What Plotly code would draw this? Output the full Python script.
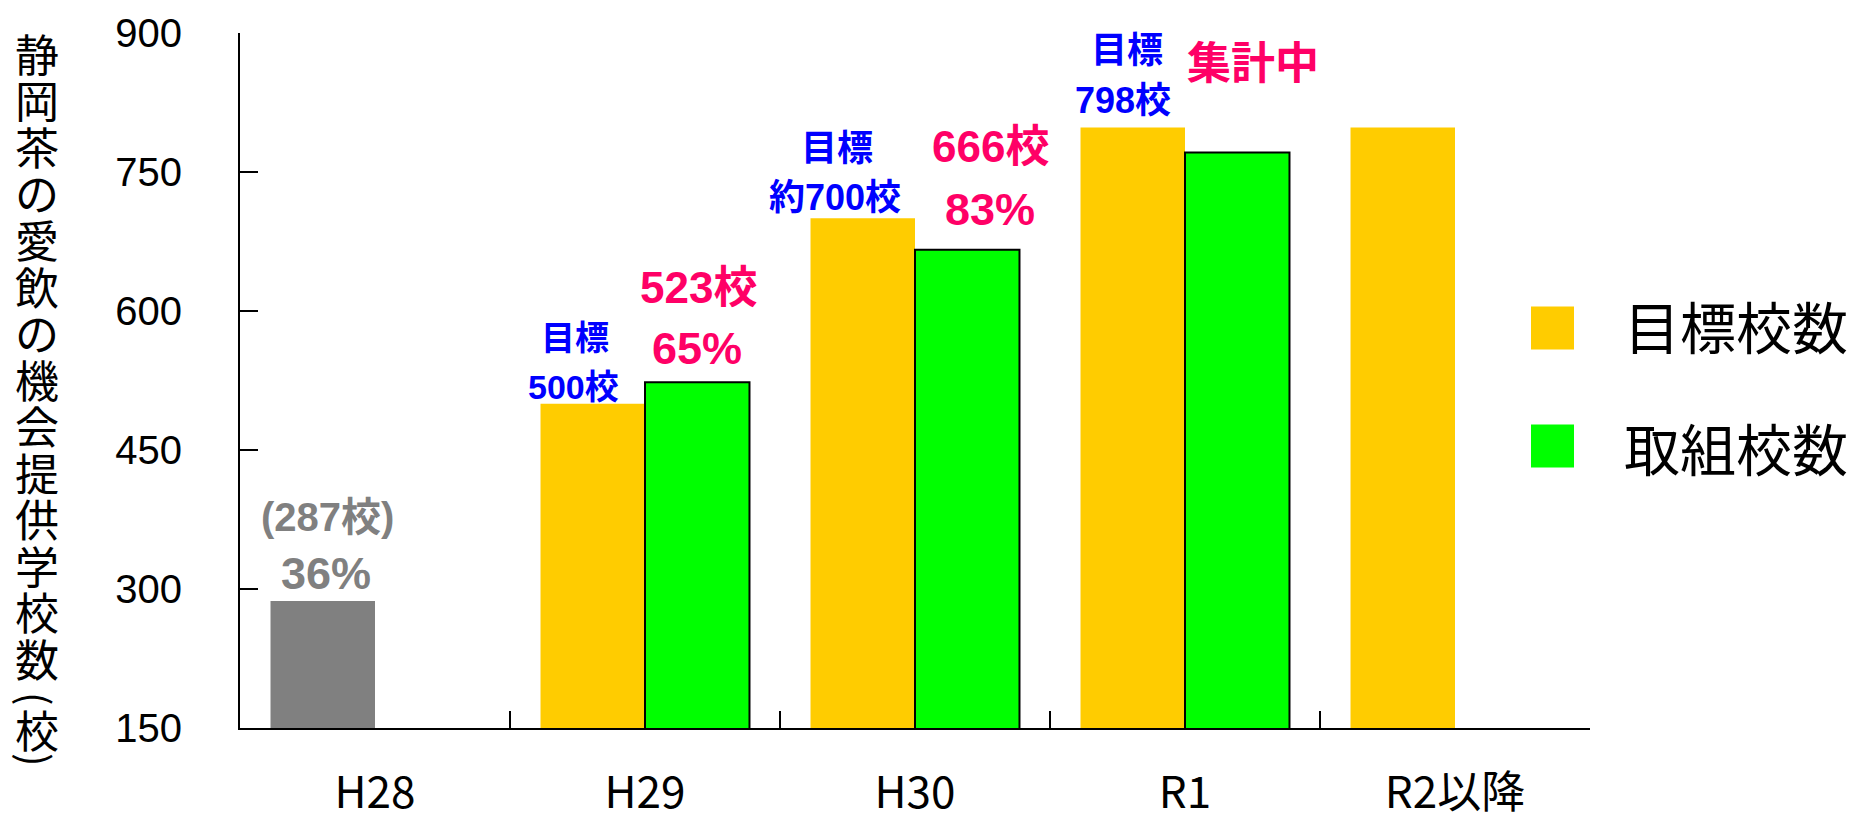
import plotly.graph_objects as go

# ---- data ----
categories = ["H28", "H29", "H30", "R1", "R2以降"]
baseline_cat = ["H28"]
baseline_values = [287]
target_cats = ["H29", "H30", "R1", "R2以降"]
target_values = [500, 700, 798, 798]
actual_cats = ["H29", "H30", "R1"]
actual_values = [523, 666, 771]
y_ticks = [150, 300, 450, 600, 750, 900]
legend_names = ["目標校数", "取組校数"]
axis_title = "静岡茶の愛飲の機会提供学校数（校）"

# ---- canvas / styling ----
W, H = 1856, 817
M_L, M_R, M_T, M_B = 240, 266, 33, 89
PLOT_W = W - M_L - M_R
PLOT_H = H - M_T - M_B

YELLOW = "#FFCC00"
GREEN = "#00FF00"
GRAY = "#808080"
BLUE = "#0000FF"
PINK = "#FF0066"
LABEL_FONT = "Liberation Sans, Noto Sans CJK JP, sans-serif"
CJK_FONT = "Noto Sans CJK JP, sans-serif"


def paper_x(px):
    return (px - M_L) / PLOT_W


def paper_y(py):
    return 1 - (py - M_T) / PLOT_H


fig = go.Figure()

fig.add_trace(go.Bar(
    x=baseline_cat, y=baseline_values, offsetgroup="target",
    marker=dict(color=GRAY, line=dict(width=0)), showlegend=False,
))
fig.add_trace(go.Bar(
    x=target_cats, y=target_values, offsetgroup="target", name=legend_names[0],
    marker=dict(color=YELLOW, line=dict(width=0)), showlegend=False,
))
fig.add_trace(go.Bar(
    x=actual_cats, y=actual_values, offsetgroup="actual", name=legend_names[1],
    marker=dict(color=GREEN, line=dict(color="#000000", width=2)), showlegend=False,
))

# value labels: (text, category, bar value, x offset px, y offset px above bar top, size, color)
bar_labels = [
    ("(287校)", "H28", baseline_values[0], -48, 84, 40, GRAY),
    ("36%", "H28", baseline_values[0], -49, 28, 45, GRAY),
    ("目標", "H29", target_values[0], -70, 66, 34, BLUE),
    ("500校", "H29", target_values[0], -72, 17, 34, BLUE),
    ("523校", "H29", actual_values[0], 53, 95, 44, PINK),
    ("65%", "H29", actual_values[0], 52, 34, 45, PINK),
    ("目標", "H30", target_values[1], -78, 70, 36, BLUE),
    ("約700校", "H30", target_values[1], -80, 21, 36, BLUE),
    ("666校", "H30", actual_values[1], 75, 103, 44, PINK),
    ("83%", "H30", actual_values[1], 75, 40, 45, PINK),
    ("目標", "R1", target_values[2], -58, 77, 36, BLUE),
    ("798校", "R1", target_values[2], -62, 27, 36, BLUE),
    ("集計中", "R1", actual_values[2], 68, 89, 44, PINK),
]
annotations = []
for text, cat, val, dx, dy, size, color in bar_labels:
    annotations.append(dict(
        text=f"<b>{text}</b>", x=cat, y=val, xref="x", yref="y",
        xshift=dx, yshift=dy, xanchor="center", yanchor="middle",
        showarrow=False, font=dict(family=LABEL_FONT, size=size, color=color),
    ))

# vertical axis title, one character per line; brackets are turned sideways
title_y = [53 + i * 46.5 for i in range(14)] + [699, 729, 760]
for ch, ty in zip(axis_title, title_y):
    is_bracket = ch in "（）"
    annotations.append(dict(
        text={"（": "(", "）": ")"}.get(ch, ch),
        x=paper_x(37), y=paper_y(ty), xref="paper", yref="paper",
        xanchor="center", yanchor="middle", showarrow=False,
        textangle=90 if is_bracket else 0,
        font=dict(family=CJK_FONT, size=40 if is_bracket else 44, color="#000000"),
    ))

# legend: colour squares and names
shapes = []
legend_rows = [(legend_names[0], YELLOW, 328, 324), (legend_names[1], GREEN, 446, 446)]
for name, color, box_y, text_y in legend_rows:
    shapes.append(dict(
        type="rect", xref="paper", yref="paper",
        x0=paper_x(1531), x1=paper_x(1574),
        y0=paper_y(box_y + 21.5), y1=paper_y(box_y - 21.5),
        fillcolor=color, line=dict(width=0),
    ))
    annotations.append(dict(
        text=name, x=paper_x(1622), y=paper_y(text_y), xref="paper", yref="paper",
        xanchor="left", yanchor="middle", showarrow=False,
        font=dict(family=CJK_FONT, size=56, color="#000000"),
    ))

fig.update_layout(
    width=W, height=H,
    margin=dict(l=M_L, r=M_R, t=M_T, b=M_B, pad=0, autoexpand=False),
    paper_bgcolor="white", plot_bgcolor="white",
    barmode="group", bargap=0.226, bargroupgap=0,
    showlegend=False,
    annotations=annotations, shapes=shapes,
    xaxis=dict(
        type="category", categoryorder="array", categoryarray=categories,
        range=[-0.5, len(categories) - 0.5], automargin=False,
        showline=True, linecolor="#000000", linewidth=2,
        ticks="inside", tickson="boundaries", ticklen=17, tickwidth=2, tickcolor="#000000",
        showgrid=False, zeroline=False,
        tickfont=dict(family=CJK_FONT, size=44, color="#000000"),
        ticklabelstandoff=25,
    ),
    yaxis=dict(
        range=[150, 900], tickmode="array", tickvals=y_ticks, automargin=False,
        showline=True, linecolor="#000000", linewidth=2,
        ticks="inside", ticklen=18, tickwidth=2, tickcolor="#000000",
        showgrid=False, zeroline=False,
        tickfont=dict(family="Liberation Sans, Arial, sans-serif", size=40, color="#000000"),
        ticklabelstandoff=48,
    ),
)

fig.write_html("out.html")
